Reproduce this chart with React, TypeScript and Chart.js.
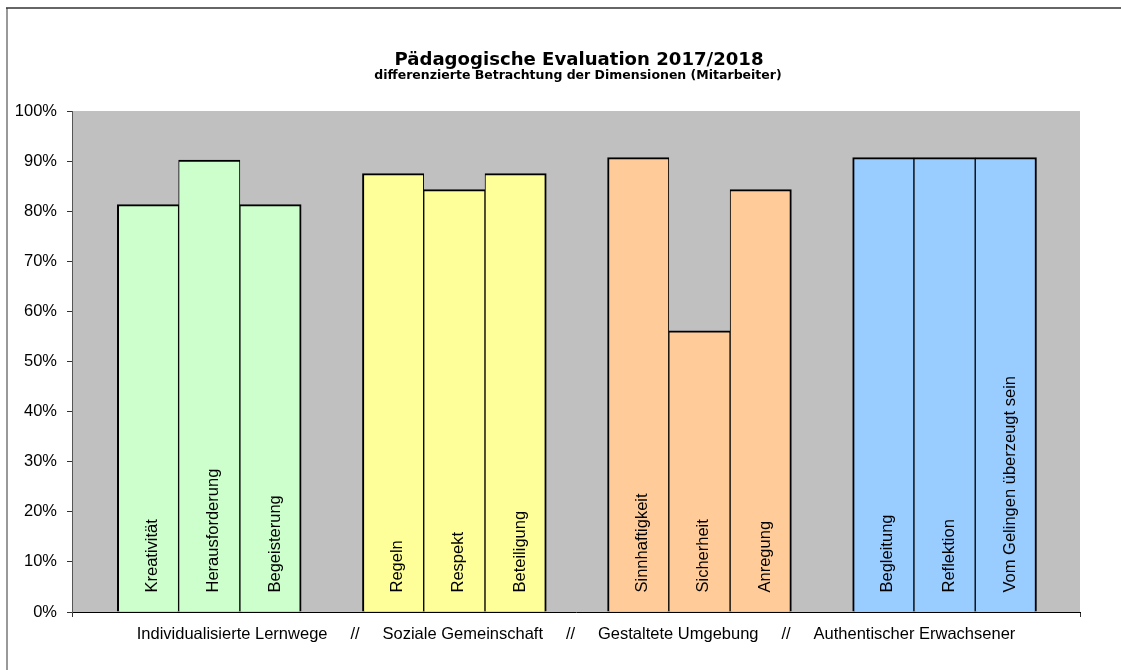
import React, { useEffect, useRef } from 'react';
import { Chart, registerables } from 'chart.js';

Chart.register(...registerables);

const TITLE = 'Pädagogische Evaluation 2017/2018';
const SUBTITLE = 'differenzierte Betrachtung der Dimensionen (Mitarbeiter)';
const GROUPS = ['Individualisierte Lernwege', 'Soziale Gemeinschaft', 'Gestaltete Umgebung', 'Authentischer Erwachsener'];
const CATEGORIES = [
  'Kreativität', 'Herausforderung', 'Begeisterung',
  'Regeln', 'Respekt', 'Beteiligung',
  'Sinnhaftigkeit', 'Sicherheit', 'Anregung',
  'Begleitung', 'Reflektion', 'Vom Gelingen überzeugt sein',
];
const GROUP_OF = [0, 0, 0, 1, 1, 1, 2, 2, 2, 3, 3, 3];
const VALUES = [81.3, 90.2, 81.3, 87.5, 84.3, 87.5, 90.7, 56.1, 84.3, 90.7, 90.7, 90.7];
const GROUP_COLORS = ['#CCFFCC', '#FFFF99', '#FFCC99', '#99CCFF'];
const Y_MIN = 0;
const Y_MAX = 100;
const Y_STEP = 10;

const W = 1121;
const H = 670;
const FONT = '"Liberation Sans", Arial, sans-serif';

const decor = {
  id: 'decor',
  beforeDraw(chart: any) {
    const { ctx, chartArea: a } = chart;
    ctx.save();
    ctx.fillStyle = '#ffffff';
    ctx.fillRect(0, 0, W, H);
    ctx.fillStyle = '#C0C0C0';
    ctx.fillRect(a.left, a.top, a.right - a.left, a.bottom - a.top);
    // outer frame
    ctx.strokeStyle = '#999999';
    ctx.lineWidth = 2;
    ctx.beginPath();
    ctx.moveTo(7, 8);
    ctx.lineTo(7, H);
    ctx.stroke();
    ctx.strokeStyle = '#333333';
    ctx.lineWidth = 1.5;
    ctx.beginPath();
    ctx.moveTo(6, 8);
    ctx.lineTo(W, 8);
    ctx.stroke();
    ctx.restore();
  },
  afterDatasetsDraw(chart: any) {
    const { ctx } = chart;
    const meta = chart.getDatasetMeta(0);
    ctx.save();
    ctx.fillStyle = '#000000';
    ctx.font = `16.5px ${FONT}`;
    ctx.textAlign = 'left';
    ctx.textBaseline = 'alphabetic';
    meta.data.forEach((bar: any, i: number) => {
      ctx.save();
      ctx.translate(bar.x + 9, bar.base - 19);
      ctx.rotate(-Math.PI / 2);
      ctx.fillText(CATEGORIES[i], 0, 0);
      ctx.restore();
    });
    ctx.restore();
  },
  afterDraw(chart: any) {
    const { ctx, chartArea: a } = chart;
    ctx.save();
    ctx.fillStyle = '#000000';
    ctx.textAlign = 'center';
    ctx.textBaseline = 'alphabetic';
    ctx.font = `bold 18.1px "DejaVu Sans", Verdana, sans-serif`;
    ctx.fillText(TITLE, 579, 65);
    ctx.font = `bold 12.5px "DejaVu Sans", Verdana, sans-serif`;
    ctx.fillText(SUBTITLE, 578, 79);
    ctx.font = `16.5px ${FONT}`;
    ctx.textBaseline = 'middle';
    const sep = '     //     ';
    ctx.fillText(GROUPS.join(sep), (a.left + a.right) / 2, 634);
    ctx.restore();
  },
};

export default function App() {
  const ref = useRef<HTMLCanvasElement | null>(null);
  useEffect(() => {
    if (!ref.current) return;
    const xMin = -1.24;
    const xMax = 15.21;
    const chart = new Chart(ref.current, {
      type: 'bar',
      data: {
        datasets: [
          {
            data: VALUES.map((v, i) => ({ x: i + GROUP_OF[i], y: v })),
            backgroundColor: GROUP_OF.map((g) => GROUP_COLORS[g]),
            borderColor: '#000000',
            borderWidth: (c: any) => {
              const i = c.dataIndex;
              const first = i === 0 || GROUP_OF[i - 1] !== GROUP_OF[i];
              const last = i === GROUP_OF.length - 1 || GROUP_OF[i + 1] !== GROUP_OF[i];
              return { top: 2, left: first ? 2 : 1, right: last ? 2 : 1, bottom: 0 };
            },
            borderSkipped: false,
            barPercentage: 1,
            categoryPercentage: 1,
          } as any,
        ],
      },
      options: {
        animation: false,
        responsive: false,
        devicePixelRatio: 1,
        layout: { padding: { top: 111, right: 41, left: 0, bottom: 0 } },
        plugins: {
          legend: { display: false },
          tooltip: { enabled: false },
          title: { display: false },
        },
        scales: {
          x: {
            type: 'linear',
            min: xMin,
            max: xMax,
            offset: false,
            afterBuildTicks: (s: any) => {
              s.ticks = [{ value: xMin }, { value: xMax }];
            },
            afterFit: (s: any) => {
              s.height = 58;
            },
            ticks: { display: false },
            grid: { offset: false, drawOnChartArea: false, drawTicks: true, tickLength: 5, color: '#333333', lineWidth: 1 },
            border: { display: true, color: '#000000', width: 1 },
          },
          y: {
            min: Y_MIN,
            max: Y_MAX,
            afterFit: (s: any) => {
              s.width = 72;
            },
            ticks: {
              stepSize: Y_STEP,
              color: '#000000',
              font: { family: FONT, size: 16.5 },
              padding: 10,
              callback: (v: any) => `${v}%`,
            },
            grid: { drawOnChartArea: false, drawTicks: true, tickLength: 5, color: '#333333', lineWidth: 1 },
            border: { display: true, color: '#555555', width: 1 },
          },
        },
      },
      plugins: [decor],
    } as any);
    return () => chart.destroy();
  }, []);
  return (
    <div style={{ position: 'absolute', left: 0, top: 0, width: W, height: H }}>
      <canvas ref={ref} width={W} height={H} style={{ width: W, height: H, display: 'block' }} />
    </div>
  );
}
